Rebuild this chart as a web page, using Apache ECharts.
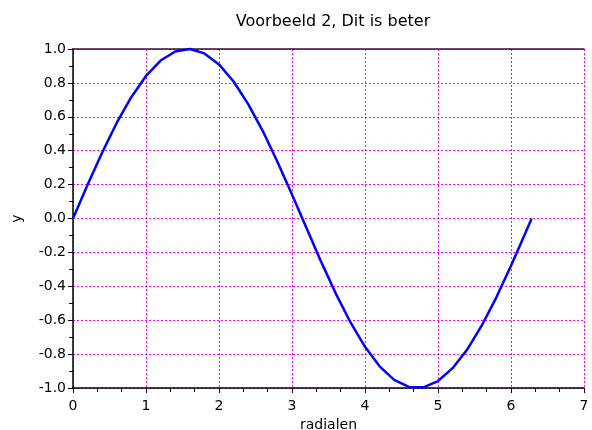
<!DOCTYPE html>
<html>
<head>
<meta charset="utf-8">
<script src="https://cdn.jsdelivr.net/npm/echarts@6/dist/echarts.min.js"></script>
<style>html,body{margin:0;padding:0;background:#fff}#c{width:592px;height:430px}</style>
</head>
<body>
<div id="c"></div>
<script>
var xValues = [0,0.2,0.4,0.6,0.8,1.0,1.2,1.4,1.6,1.8,2.0,2.2,2.4,2.6,2.8,3.0,3.2,3.4,3.6,3.8,4.0,4.2,4.4,4.6,4.8,5.0,5.2,5.4,5.6,5.8,6.0,6.2,6.283];
var yValues = [0,0.199,0.389,0.565,0.717,0.841,0.932,0.985,1.000,0.974,0.909,0.808,0.675,0.516,0.335,0.141,-0.058,-0.256,-0.443,-0.612,-0.757,-0.872,-0.952,-0.994,-0.996,-0.959,-0.883,-0.773,-0.631,-0.465,-0.279,-0.083,0];
var titleText = 'Voorbeeld 2, Dit is beter';
var xName = 'radialen';
var yName = 'y';

var pts = xValues.map(function(x,i){return [x,yValues[i]];});
var font = 'DejaVu Sans, Liberation Sans, sans-serif';
var chart = echarts.init(document.getElementById('c'));
chart.setOption({
  animation:false,
  title:{text:titleText,left:328,textAlign:'center',top:9,
    textStyle:{fontFamily:font,fontSize:16,fontWeight:'normal',color:'#000'}},
  grid:{left:73,right:8,top:49,bottom:42,containLabel:false,outerBoundsMode:'none'},
  xAxis:[{type:'value',min:0,max:7,interval:1,name:xName,nameLocation:'middle',nameGap:28,
    nameTextStyle:{fontFamily:font,fontSize:14,color:'#000'},
    axisLine:{show:true,onZero:false,lineStyle:{color:'#000',width:1.5}},
    axisTick:{show:true,inside:false,length:5,lineStyle:{color:'#000'}},
    minorTick:{show:true,splitNumber:3,length:4,lineStyle:{color:'#000'}},
    axisLabel:{fontFamily:font,fontSize:14,color:'#000',margin:11},
    splitLine:{show:true,lineStyle:{color:'#ff00ff',type:[2,2],width:1}}},
   {type:'value',position:'top',min:0,max:7,interval:1,
    axisLine:{show:true,onZero:false,lineStyle:{color:'#3a0a3a',width:1.5}},
    axisTick:{show:false},axisLabel:{show:false},splitLine:{show:false}}],
  yAxis:{type:'value',min:-1,max:1,interval:0.2,name:yName,nameLocation:'middle',nameGap:49,
    nameTextStyle:{fontFamily:font,fontSize:14,color:'#000'},
    axisLine:{show:true,onZero:false,lineStyle:{color:'#000',width:1.5}},
    axisTick:{show:true,inside:false,length:5,lineStyle:{color:'#000'}},
    minorTick:{show:true,splitNumber:2,length:4,lineStyle:{color:'#000'}},
    axisLabel:{fontFamily:font,fontSize:14,color:'#000',margin:7,
      formatter:function(v){return v.toFixed(1);}},
    splitLine:{show:true,lineStyle:{color:'#ff00ff',type:[2,2],width:1}}},
  series:[{type:'line',data:pts,showSymbol:false,symbol:'none',smooth:false,
    lineStyle:{color:'#0000ff',width:2.5},clip:false}]
});
</script>
</body>
</html>
